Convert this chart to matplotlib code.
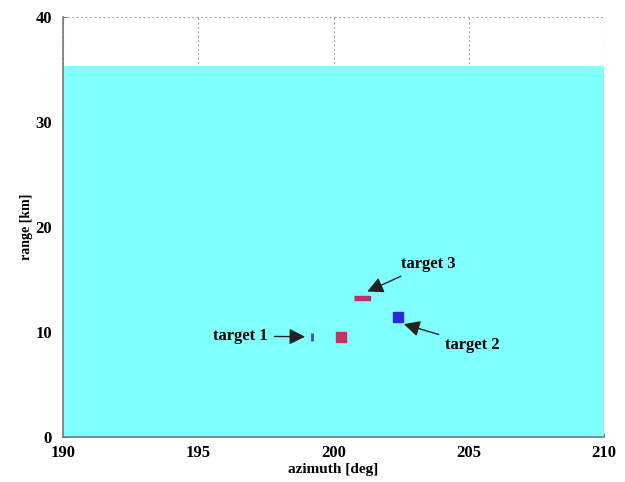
import matplotlib
matplotlib.use("Agg")
import matplotlib.pyplot as plt
from matplotlib.patches import Rectangle

plt.rcParams['font.family'] = ['Liberation Serif', 'DejaVu Serif']
plt.rcParams['font.weight'] = 'bold'

# coverage region (azimuth span and max range)
cover_az = [190.0, 210.0]
cover_range = 35.3

# detections: azimuth [deg], range [km]
blue_az = [202.4]
blue_rng = [11.4]
red_az = [200.27]
red_rng = [9.55]
red_dash_az = [201.05]
red_dash_rng = [13.2]
tick_az = [199.2]
tick_rng = [9.55]

# annotations: label, text position, arrow tip
labels = ["target 1", "target 2", "target 3"]
label_xy = [(196.55, 9.6), (205.15, 8.8), (203.5, 16.5)]
tip_xy = [(198.95, 9.55), (202.6, 10.75), (201.25, 13.85)]

fig = plt.figure(figsize=(6.25, 4.82), dpi=100)
ax = fig.add_axes([0.1008, 0.0934, 0.8656, 0.8713])
ax.set_xlim(190, 210)
ax.set_ylim(0, 40)
ax.set_xticks([190, 195, 200, 205, 210])
ax.set_yticks([0, 10, 20, 30, 40])

ax.grid(True, linestyle=(0, (1.5, 2.5)), color='#999999', linewidth=0.8, zorder=0)
for s in ['top', 'right']:
    ax.spines[s].set_visible(False)
for s in ['left', 'bottom']:
    ax.spines[s].set_color('#777777')
    ax.spines[s].set_linewidth(1.2)
ax.tick_params(direction='in', length=3, color='#777777', labelsize=12)
ax.tick_params(axis='x', pad=6)
ax.tick_params(axis='y', pad=8)
ax.set_axisbelow(True)

ax.add_patch(Rectangle((cover_az[0], 0), cover_az[1] - cover_az[0], cover_range,
                       facecolor='#80FFFF', edgecolor='none', zorder=1))

ax.plot(blue_az, blue_rng, 's', color='#2A2AD8', markersize=7, zorder=3)
ax.plot(red_az, red_rng, 's', color='#C8305F', markersize=6.5, zorder=3)
wide = [(-1.5, -0.45), (1.5, -0.45), (1.5, 0.45), (-1.5, 0.45)]
ax.plot(red_dash_az, red_dash_rng, marker=wide, linestyle='none',
        color='#B83066', markersize=11, zorder=3)
ax.plot(tick_az, tick_rng, marker='|', linestyle='none', color='#3A4AD8',
        markersize=6, markeredgewidth=2, zorder=3)

for lab, txy, pxy in zip(labels, label_xy, tip_xy):
    ax.annotate(lab, xy=pxy, xytext=txy, fontsize=12, fontweight='bold',
                ha='center', va='center', zorder=4,
                arrowprops=dict(arrowstyle='-|>,head_length=0.6,head_width=0.3',
                                color='#222222', lw=1.0,
                                mutation_scale=16, shrinkA=3, shrinkB=0))

ax.set_xlabel('azimuth [deg]', fontsize=11, fontweight='bold', labelpad=1)
ax.set_ylabel('range [km]', fontsize=10, fontweight='bold')
ax.yaxis.set_label_coords(-0.056, 0.5)
for t in ax.get_xticklabels() + ax.get_yticklabels():
    t.set_fontweight('bold')

fig.savefig('out.png', dpi=100, facecolor='white')
